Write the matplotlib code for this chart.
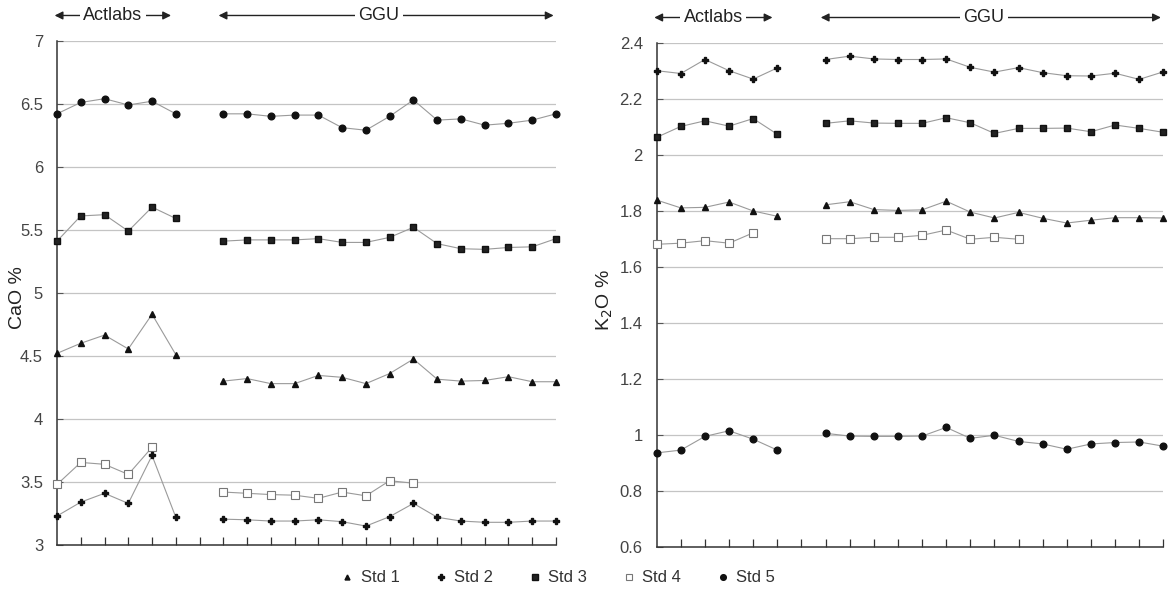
import matplotlib
matplotlib.use("Agg")
import matplotlib.pyplot as plt
import numpy as np

plt.rcParams['font.family'] = ['Liberation Sans', 'DejaVu Sans']

# Sample positions (index along x axis)
actlabs_x = [0, 1, 2, 3, 4, 5]
actlabs_x4 = [0, 1, 2, 3, 4]
ggu_x = list(range(7, 22))
ggu_x4 = list(range(7, 16))

# ---- CaO % (left panel) ----
cao_std5_act = [6.42, 6.51, 6.54, 6.49, 6.52, 6.42]
cao_std5_ggu = [6.42, 6.42, 6.40, 6.41, 6.41, 6.31, 6.29, 6.40, 6.53, 6.37, 6.38, 6.33, 6.345, 6.37, 6.42]
cao_std3_act = [5.41, 5.61, 5.62, 5.49, 5.68, 5.59]
cao_std3_ggu = [5.41, 5.42, 5.42, 5.42, 5.43, 5.40, 5.40, 5.44, 5.52, 5.39, 5.35, 5.345, 5.36, 5.365, 5.43]
cao_std1_act = [4.52, 4.60, 4.665, 4.555, 4.83, 4.51]
cao_std1_ggu = [4.30, 4.32, 4.28, 4.28, 4.345, 4.33, 4.28, 4.36, 4.475, 4.315, 4.30, 4.305, 4.335, 4.295, 4.295]
cao_std4_act = [3.48, 3.655, 3.64, 3.56, 3.775]
cao_std4_ggu = [3.42, 3.41, 3.40, 3.395, 3.37, 3.42, 3.39, 3.51, 3.49]
cao_std2_act = [3.23, 3.34, 3.41, 3.33, 3.71, 3.22]
cao_std2_ggu = [3.205, 3.20, 3.19, 3.19, 3.20, 3.185, 3.15, 3.225, 3.33, 3.22, 3.19, 3.18, 3.18, 3.19, 3.19]

# ---- K2O % (right panel) ----
k2o_std2_act = [2.30, 2.29, 2.34, 2.30, 2.27, 2.31]
k2o_std2_ggu = [2.34, 2.352, 2.342, 2.34, 2.34, 2.342, 2.312, 2.295, 2.311, 2.293, 2.282, 2.281, 2.291, 2.269, 2.296]
k2o_std3_act = [2.062, 2.101, 2.121, 2.102, 2.129, 2.073]
k2o_std3_ggu = [2.112, 2.121, 2.113, 2.112, 2.112, 2.132, 2.114, 2.076, 2.094, 2.094, 2.095, 2.082, 2.106, 2.094, 2.08]
k2o_std1_act = [1.838, 1.81, 1.812, 1.831, 1.799, 1.78]
k2o_std1_ggu = [1.821, 1.832, 1.804, 1.801, 1.803, 1.834, 1.795, 1.774, 1.794, 1.773, 1.756, 1.766, 1.775, 1.775, 1.774]
k2o_std4_act = [1.68, 1.684, 1.693, 1.684, 1.721]
k2o_std4_ggu = [1.70, 1.70, 1.705, 1.705, 1.712, 1.731, 1.698, 1.705, 1.698]
k2o_std5_act = [0.935, 0.945, 0.994, 1.014, 0.984, 0.945]
k2o_std5_ggu = [1.005, 0.995, 0.994, 0.994, 0.995, 1.026, 0.987, 0.998, 0.976, 0.967, 0.948, 0.967, 0.972, 0.974, 0.959]

legend_labels = ['Std 1', 'Std 2', 'Std 3', 'Std 4', 'Std 5']

styles = {
    'Std 1': dict(marker='^', ms=4.2, mfc='#111111', mec='#111111'),
    'Std 2': dict(marker='P', ms=4.8, mfc='#111111', mec='#111111'),
    'Std 3': dict(marker='s', ms=4.8, mfc='#222222', mec='#111111'),
    'Std 4': dict(marker='s', ms=5.8, mfc='white', mec='#777777', mew=0.8),
    'Std 5': dict(marker='o', ms=4.8, mfc='#111111', mec='#111111'),
}
line_kw = dict(color='#9a9a9a', lw=0.8)

fig = plt.figure(figsize=(11.71, 5.89), dpi=100)
axL = fig.add_axes([57/1171, 1-545/589, (556-57)/1171, (545-40.7)/589])
axR = fig.add_axes([656.7/1171, 1-546.7/589, (1163.3-656.7)/1171, (546.7-42.7)/589])


def plot_series(ax, name, xa, ya, xg, yg):
    st = styles[name]
    ax.plot(xa, ya, linestyle='-', clip_on=False, zorder=3, **line_kw, **st)
    ax.plot(xg, yg, linestyle='-', clip_on=False, zorder=3, **line_kw, **st)


plot_series(axL, 'Std 5', actlabs_x, cao_std5_act, ggu_x, cao_std5_ggu)
plot_series(axL, 'Std 3', actlabs_x, cao_std3_act, ggu_x, cao_std3_ggu)
plot_series(axL, 'Std 1', actlabs_x, cao_std1_act, ggu_x, cao_std1_ggu)
plot_series(axL, 'Std 4', actlabs_x4, cao_std4_act, ggu_x4, cao_std4_ggu)
plot_series(axL, 'Std 2', actlabs_x, cao_std2_act, ggu_x, cao_std2_ggu)

plot_series(axR, 'Std 2', actlabs_x, k2o_std2_act, ggu_x, k2o_std2_ggu)
plot_series(axR, 'Std 3', actlabs_x, k2o_std3_act, ggu_x, k2o_std3_ggu)
plot_series(axR, 'Std 1', actlabs_x, k2o_std1_act, ggu_x, k2o_std1_ggu)
plot_series(axR, 'Std 4', actlabs_x4, k2o_std4_act, ggu_x4, k2o_std4_ggu)
plot_series(axR, 'Std 5', actlabs_x, k2o_std5_act, ggu_x, k2o_std5_ggu)

yticksL = [3, 3.5, 4, 4.5, 5, 5.5, 6, 6.5, 7]
yticksR = [0.6, 0.8, 1, 1.2, 1.4, 1.6, 1.8, 2, 2.2, 2.4]

for ax, yt, lims, lab in [(axL, yticksL, (3, 7), 'CaO %'), (axR, yticksR, (0.6, 2.4), 'K$_2$O %')]:
    ax.set_xlim(0, 21)
    ax.set_ylim(*lims)
    ax.set_yticks(yt)
    ax.set_yticklabels([('%g' % v) for v in yt], color='#444444', fontsize=12)
    ax.set_xticks(range(1, 22))
    ax.set_xticklabels([])
    ax.tick_params(axis='x', direction='in', length=6, width=0.9, color='#333333')
    ax.tick_params(axis='y', direction='in', length=4, width=0.8, color='#555555', pad=10)
    for s in ['top', 'right']:
        ax.spines[s].set_visible(False)
    ax.spines['left'].set_color('#333333')
    ax.spines['bottom'].set_color('#333333')
    ax.spines['left'].set_linewidth(1.1)
    ax.spines['bottom'].set_linewidth(1.1)
    for v in yt[1:]:
        ax.axhline(v, color='#c4c4c4', lw=0.9, zorder=1)
    ax.set_ylabel(lab, fontsize=14, color='#222222')

    # Header arrows
    ytop = 1.05
    trans = ax.get_xaxis_transform()
    ax.annotate('', xy=(-0.1, ytop), xytext=(4.8, ytop), xycoords=trans, textcoords=trans,
                arrowprops=dict(arrowstyle='<|-|>', color='#222222', lw=1.0, mutation_scale=12,
                                shrinkA=0, shrinkB=0), annotation_clip=False)
    ax.text(2.35, ytop, 'Actlabs', transform=trans, ha='center', va='center', fontsize=13,
            color='#222222', bbox=dict(facecolor='white', edgecolor='none', pad=2.5), zorder=5,
            clip_on=False)
    ax.annotate('', xy=(6.8, ytop), xytext=(20.9, ytop), xycoords=trans, textcoords=trans,
                arrowprops=dict(arrowstyle='<|-|>', color='#222222', lw=1.0, mutation_scale=12,
                                shrinkA=0, shrinkB=0), annotation_clip=False)
    ax.text(13.55, ytop, 'GGU', transform=trans, ha='center', va='center', fontsize=13,
            color='#222222', bbox=dict(facecolor='white', edgecolor='none', pad=2.5), zorder=5,
            clip_on=False)

axL.yaxis.set_label_coords(-0.062, 0.49)
axR.yaxis.set_label_coords(-0.082, 0.49)

# Legend
handles = []
for name in legend_labels:
    st = dict(styles[name])
    st['ms'] = st['ms'] * 0.85
    h, = axL.plot([], [], linestyle='none', **st)
    handles.append(h)
fig.legend(handles, legend_labels, loc='center', bbox_to_anchor=(557/1171, 1-578/589), ncol=5,
           frameon=False, fontsize=12, handletextpad=0.3, columnspacing=2.0, handlelength=1.0,
           labelcolor='#333333')

fig.savefig('out.png', dpi=100, facecolor='white')
